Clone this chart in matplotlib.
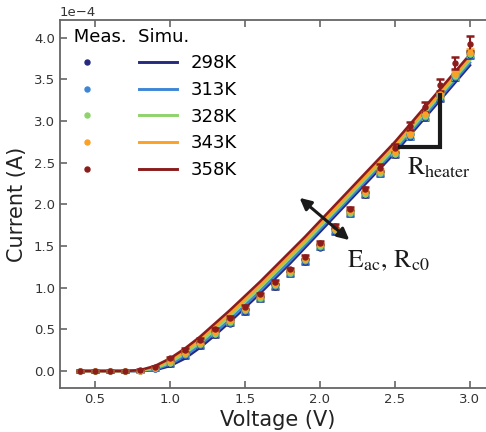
import numpy as np
import matplotlib
matplotlib.use("Agg")
import matplotlib.pyplot as plt
from matplotlib.lines import Line2D
from matplotlib.ticker import MultipleLocator

plt.rcParams["mathtext.fontset"] = "stix"

# Voltage sweep (V) and currents in units of 1e-4 A
voltage = [0.4, 0.5, 0.6, 0.7, 0.8, 0.9, 1.0, 1.1, 1.2, 1.3, 1.4, 1.5, 1.6, 1.7,
           1.8, 1.9, 2.0, 2.1, 2.2, 2.3, 2.4, 2.5, 2.6, 2.7, 2.8, 2.9, 3.0]
temps = ["298K", "313K", "328K", "343K", "358K"]
colors = ["#262a7e", "#3d86d6", "#8fd36b", "#fba127", "#8c1c1c"]

# simulated curves
sim_298 = [0, 0, 0, 0, 0, 0.01, 0.06, 0.15, 0.28, 0.43, 0.59, 0.76, 0.93, 1.11,
           1.29, 1.48, 1.67, 1.86, 2.05, 2.24, 2.43, 2.62, 2.83, 3.04, 3.25, 3.46, 3.67]
sim_313 = [0, 0, 0, 0, 0, 0.02, 0.08, 0.18, 0.31, 0.46, 0.62, 0.79, 0.96, 1.14,
           1.32, 1.51, 1.70, 1.89, 2.08, 2.27, 2.46, 2.65, 2.86, 3.07, 3.28, 3.49, 3.70]
sim_328 = [0, 0, 0, 0, 0.004, 0.03, 0.10, 0.21, 0.34, 0.50, 0.66, 0.83, 1.00, 1.18,
           1.36, 1.54, 1.73, 1.92, 2.11, 2.30, 2.49, 2.68, 2.89, 3.10, 3.31, 3.52, 3.73]
sim_343 = [0, 0, 0, 0, 0.007, 0.045, 0.13, 0.24, 0.38, 0.53, 0.69, 0.86, 1.03, 1.21,
           1.39, 1.57, 1.76, 1.95, 2.14, 2.33, 2.52, 2.71, 2.92, 3.13, 3.34, 3.55, 3.76]
sim_358 = [0, 0, 0, 0, 0.01, 0.06, 0.15, 0.27, 0.41, 0.57, 0.73, 0.90, 1.07, 1.25,
           1.43, 1.61, 1.80, 1.99, 2.18, 2.37, 2.56, 2.75, 2.96, 3.17, 3.38, 3.59, 3.80]

# measured points
meas_298 = [0, 0, 0, 0, 0, 0.02, 0.08, 0.18, 0.30, 0.43, 0.57, 0.71, 0.86, 1.01,
            1.16, 1.31, 1.48, 1.67, 1.88, 2.11, 2.36, 2.59, 2.81, 3.04, 3.27, 3.52, 3.79]
meas_313 = [0, 0, 0, 0, 0, 0.025, 0.09, 0.19, 0.31, 0.44, 0.58, 0.72, 0.87, 1.02,
            1.17, 1.32, 1.49, 1.68, 1.89, 2.12, 2.37, 2.60, 2.82, 3.05, 3.28, 3.53, 3.80]
meas_328 = [0, 0, 0, 0, 0.003, 0.03, 0.10, 0.20, 0.32, 0.45, 0.59, 0.73, 0.88, 1.03,
            1.18, 1.33, 1.50, 1.69, 1.90, 2.13, 2.38, 2.61, 2.83, 3.06, 3.29, 3.54, 3.81]
meas_343 = [0, 0, 0, 0, 0.005, 0.04, 0.12, 0.22, 0.34, 0.47, 0.61, 0.75, 0.90, 1.05,
            1.20, 1.35, 1.52, 1.71, 1.92, 2.15, 2.40, 2.63, 2.85, 3.08, 3.32, 3.57, 3.83]
meas_358 = [0, 0, 0, 0, 0.01, 0.05, 0.15, 0.25, 0.37, 0.50, 0.64, 0.77, 0.92, 1.07,
            1.22, 1.37, 1.54, 1.74, 1.95, 2.18, 2.44, 2.68, 2.94, 3.17, 3.43, 3.70, 3.93]

err_small = [0.01, 0.01, 0.01, 0.01, 0.01, 0.01, 0.02, 0.02, 0.02, 0.02, 0.02, 0.02, 0.02, 0.02,
             0.02, 0.02, 0.02, 0.02, 0.02, 0.02, 0.02, 0.02, 0.03, 0.03, 0.03, 0.03, 0.03]
err_358 = [0.01, 0.01, 0.01, 0.01, 0.01, 0.01, 0.02, 0.02, 0.02, 0.02, 0.02, 0.02, 0.02, 0.02,
           0.02, 0.02, 0.02, 0.02, 0.02, 0.03, 0.04, 0.05, 0.05, 0.06, 0.07, 0.07, 0.09]

sims = [sim_298, sim_313, sim_328, sim_343, sim_358]
meas = [meas_298, meas_313, meas_328, meas_343, meas_358]
errs = [err_small, err_small, err_small, err_small, err_358]

fig = plt.figure(figsize=(4.86, 4.32), dpi=100)
ax = fig.add_axes([0.1235, 0.1019, 0.895, 0.8519])

v = np.array(voltage)
for s, c in zip(sims, colors):
    ax.plot(v, np.array(s) * 1e-4, color=c, lw=1.9, zorder=2)
for m, e, c in zip(meas, errs, colors):
    ax.errorbar(v, np.array(m) * 1e-4, yerr=np.array(e) * 1e-4, fmt="o", ms=3.6,
                color=c, ecolor=c, elinewidth=1.5, capsize=3, capthick=1.8, zorder=3)

# annotations
ax.annotate("", xy=(1.85, 2.10e-4), xytext=(2.21, 1.55e-4),
            arrowprops=dict(arrowstyle="<|-|>", color="#1a1a1a", lw=2.2,
                            mutation_scale=17), zorder=5)
ax.text(2.18, 1.25e-4, r"$\mathrm{E_{ac},\,R_{c0}}$", fontsize=18.5, color="#1a1a1a")
ax.plot([2.535, 2.80, 2.80], [2.69e-4, 2.69e-4, 3.31e-4], color="#1a1a1a", lw=3,
        solid_joinstyle="miter", zorder=5)
ax.text(2.58, 2.36e-4, r"$\mathrm{R_{heater}}$", fontsize=18.5, color="#1a1a1a")

ax.set_xlim(0.267, 3.167)
ax.set_ylim(-0.204e-4, 4.214e-4)
ax.xaxis.set_major_locator(MultipleLocator(0.5))
ax.yaxis.set_major_locator(MultipleLocator(0.5e-4))
ax.ticklabel_format(axis="y", style="sci", scilimits=(0, 0))
ax.tick_params(direction="in", top=True, right=True, length=5, width=1.2,
               color="#666666", labelcolor="#333333", labelsize=9.5)
ax.yaxis.get_offset_text().set_fontsize(9.5)
ax.yaxis.get_offset_text().set_color("#333333")
for sp in ax.spines.values():
    sp.set_color("#666666")
    sp.set_linewidth(1.3)

ax.set_xlabel("Voltage (V)", fontsize=15, color="#222222", labelpad=3)
ax.set_ylabel("Current (A)", fontsize=15, color="#222222", labelpad=5)

dots = [Line2D([], [], ls="none", marker="o", ms=3.6, color=c) for c in colors]
lines = [Line2D([], [], color=c, lw=2.1) for c in colors]
ax.legend(dots + lines, [""] * 5 + temps, ncol=2, title=" Meas.  Simu.",
          alignment="left", frameon=False, fontsize=13, title_fontsize=13,
          loc="upper left", bbox_to_anchor=(-0.01, 1.013), handlelength=2.1,
          handletextpad=0.8, columnspacing=1.0, labelspacing=0.48,
          borderaxespad=0.3)

fig.savefig("out.png", dpi=100)
